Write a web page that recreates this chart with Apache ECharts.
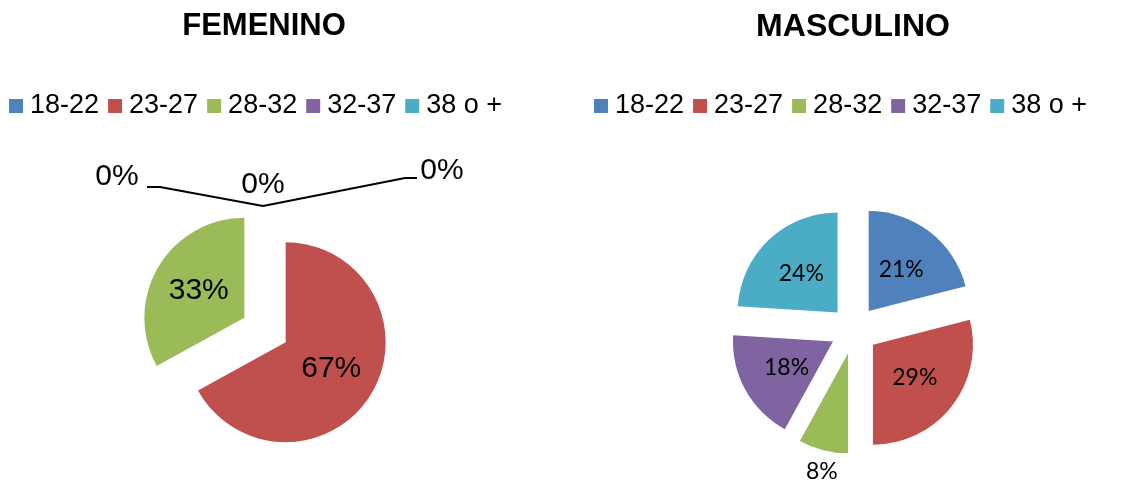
<!DOCTYPE html>
<html>
<head>
<meta charset="utf-8">
<script src="https://cdn.jsdelivr.net/npm/echarts@6/dist/echarts.min.js"></script>
<style>
html, body { margin: 0; padding: 0; background: #fff; }
#chart { width: 1144px; height: 486px; }
</style>
</head>
<body>
<div id="chart"></div>
<script>
const categories = ['18-22', '23-27', '28-32', '32-37', '38 o +'];
const femenino = [0, 67, 33, 0, 0];
const masculino = [21, 29, 8, 18, 24];
const colors = ['#4F81BD', '#C0504D', '#9BBB59', '#8064A2', '#4BACC6'];

const leftCenter = [265, 330];
const rightCenter = [854, 330];

// zero slices of the left pie: label spot and leader line, as offsets from pie centre
const zeroLabels = {
    0: { x: -2, y: -145, line: null },
    3: { x: 177, y: -159, line: [[-2, -124], [140, -152], [152, -152]] },
    4: { x: -148, y: -153, line: [[-118, -143], [-105, -143], [-2, -124]] }
};

function femData() {
    return femenino.map(function (v, i) {
        const item = { name: categories[i], value: v, selected: v > 0 };
        if (zeroLabels[i]) {
            item.label = { position: 'outside' };
            item.labelLine = { show: !!zeroLabels[i].line };
        }
        return item;
    });
}

function mascData() {
    return masculino.map(function (v, i) {
        const item = { name: categories[i], value: v, selected: true };
        if (i === 2) {
            // small slice: label sits below it, no leader line
            item.label = { position: 'outside' };
            item.labelLine = { show: false, length: 22, length2: -25 };
        }
        return item;
    });
}

function zeroLayout(p) {
    const o = zeroLabels[p.dataIndex];
    if (!o) return {};
    const res = { x: leftCenter[0] + o.x, y: leftCenter[1] + o.y, align: 'center', verticalAlign: 'middle' };
    if (o.line) {
        res.labelLinePoints = o.line.map(function (pt) {
            return [leftCenter[0] + pt[0], leftCenter[1] + pt[1]];
        });
    }
    return res;
}

const legendBase = {
    data: categories,
    icon: 'rect',
    itemWidth: 14,
    itemHeight: 14,
    itemGap: 9,
    top: 91,
    padding: 0,
    selectedMode: false,
    textStyle: { fontFamily: 'Liberation Sans', fontSize: 27, color: '#000', padding: [0, 0, 0, 2], lineHeight: 30 }
};

const titleStyle = { fontFamily: 'Liberation Sans', fontSize: 31, fontWeight: 'bold', color: '#000' };

const option = {
    animation: false,
    color: colors,
    title: [
        { text: 'FEMENINO', left: 264, top: 11, padding: 0, textAlign: 'center', textStyle: titleStyle },
        { text: 'MASCULINO', left: 853, top: 11, padding: 0, textAlign: 'center',
          textStyle: Object.assign({}, titleStyle, { fontSize: 32 }) }
    ],
    legend: [
        Object.assign({}, legendBase, { left: 9 }),
        Object.assign({}, legendBase, { left: 594 })
    ],
    series: [
        {
            name: 'FEMENINO',
            type: 'pie',
            center: leftCenter,
            radius: 100,
            startAngle: 90,
            clockwise: true,
            selectedMode: 'multiple',
            selectedOffset: 24,
            avoidLabelOverlap: false,
            emphasis: { disabled: true },
            label: { show: true, position: 'inside', formatter: '{d}%',
                     fontFamily: 'Liberation Sans', fontSize: 30, color: '#000' },
            labelLine: { show: true, lineStyle: { color: '#000', width: 1.8 } },
            labelLayout: zeroLayout,
            data: femData()
        },
        {
            name: 'MASCULINO',
            type: 'pie',
            center: rightCenter,
            radius: 100,
            startAngle: 90,
            clockwise: true,
            selectedMode: 'multiple',
            selectedOffset: 24,
            avoidLabelOverlap: false,
            emphasis: { disabled: true },
            label: { show: true, position: 'inside', formatter: '{d}%',
                     fontFamily: 'Lato', fontSize: 23, color: '#000' },
            labelLine: { show: false },
            data: mascData()
        }
    ]
};

const chart = echarts.init(document.getElementById('chart'));
chart.setOption(option);
window.addEventListener('resize', () => {
    chart.resize();
});
</script>
</body>
</html>
